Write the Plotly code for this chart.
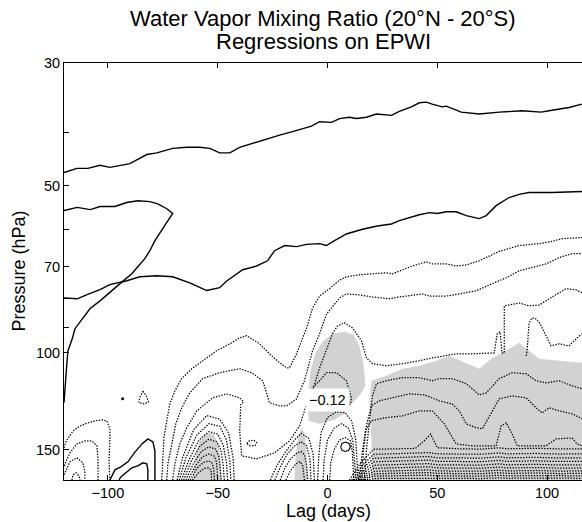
import math
import plotly.graph_objects as go

FONT = "Liberation Sans, Arial, Helvetica, sans-serif"

# ---- solid contours (zero / positive regression) ----
lag_s1 = [-120, -114.1, -109.1, -103.6, -99.1, -90, -82.3, -77.7, -70.5, -64.1, -58.2, -53.6, -49.1, -44.5, -40,
          -34.1, -27.7, -21.8, -15.9, -7.3, -3.6, 1.8, 5.5, 10, 13.2, 17.7, 22.3, 29.1, 32.7, 38.2, 41.8, 45, 47.7,
          52.3, 54.1, 60.9, 69.1, 78.2, 88.6, 95, 97.3, 100.9, 105.5, 110, 115.9]
hpa_s1 = [47.3, 46.5, 46.5, 45.9, 46.3, 45.6, 43.9, 43.6, 42.8, 42.6, 42.6, 42.8, 43.6, 43.6, 42.6, 41.9, 41.1, 40.5,
          39.9, 39.0, 38.3, 38.4, 37.8, 37.6, 37.8, 37.6, 37.1, 37.3, 36.7, 36.0, 35.4, 35.3, 35.6, 36.0, 35.9, 36.8,
          37.1, 36.8, 36.6, 36.7, 36.8, 36.6, 36.3, 36.1, 35.6]

lag_s2 = [-120, -114, -108, -103.6, -96.8, -91.4, -86.4, -80.9, -77.3, -73.2, -70.5, -73.2, -76.4, -78.6, -80.9,
          -83.2, -86.4, -89.1, -94.5, -99.1, -103.6, -108.2, -111.8, -115, -116.4, -118.2, -118.6, -119.1, -119.5, -120]
hpa_s2 = [55.4, 54.7, 55.2, 54.5, 54.5, 53.6, 53.2, 53.4, 53.9, 55.0, 56.1, 58.3, 60.8, 62.8, 65.5, 67.7, 70.0, 72.1,
          75.1, 78.0, 80.7, 83.4, 87.1, 90.6, 94.9, 99.3, 103.5, 110.8, 117.3, 123.2]

lag_s3 = [-120, -114, -109.5, -103.6, -99.1, -91.4, -85.5, -77.7, -70.5, -62.7, -55, -49.1, -45.9, -38.6, -32.3,
          -27.3, -24.1, -19.5, -14.1, -9.5, -3.6, -0.5, 3.2, 8.6, 15.9, 22.7, 29.1, 32.7, 41.8, 46.4, 50, 54.1, 58.6,
          63.2, 69.1, 72.3, 76.8, 82.7, 87.3, 91.8, 102.3, 115.9]
hpa_s3 = [79.7, 80.0, 78.6, 77.0, 75.4, 74.2, 73.0, 72.7, 73.0, 74.9, 77.3, 76.4, 74.3, 70.9, 69.8, 68.3, 65.5, 64.1,
          64.4, 63.8, 63.6, 64.1, 62.8, 61.1, 59.9, 59.1, 58.6, 57.8, 56.4, 55.9, 56.1, 55.7, 55.7, 56.6, 57.3, 56.6,
          54.3, 52.5, 51.8, 51.4, 51.4, 51.2]

lag_s4 = [-99.1, -96.8, -94.1, -90.9, -87.7, -84.5, -81.8, -79.5, -78.6, -78.6, -78.6]
hpa_s4 = [170, 163, 161, 157.6, 151.4, 146.3, 143.3, 145.1, 150.6, 160.3, 170]

lag_s5 = [-95, -94.1, -91.4, -89.1, -86.4, -84.1, -82.3, -81.8, -81.8]
hpa_s5 = [170, 167.8, 164.4, 161.6, 160.3, 158.3, 159, 163, 170]

lag_s6 = [6.0, 6.6, 8.2, 9.8, 10.4, 9.6, 8.0, 6.6, 6.0]
hpa_s6 = [148.2, 146.0, 145.2, 146.0, 148.2, 150.4, 151.0, 150.3, 148.2]

lag_dot = [-93.3]
hpa_dot = [121.2]

# ---- dotted contours (negative regression) ----
lag_n1 = [-75.5, -75, -74.5, -73.2, -71.8, -69.5, -66.4, -61.8, -56.8, -50.5, -44.5, -40, -36.8, -30.9, -26.4,
          -21.8, -18.6, -17.3, -14.1, -9.5, -6.8, -3.6, 0.9, 5.5, 8.6, 14.5, 20.5, 26.8, 29.5, 32.7, 38.6, 45,
          47.7, 54.1, 58.6, 63.2, 69.1, 78.2, 87.3, 96.4, 102.3, 106.8, 115.9]
hpa_n1 = [170, 155.0, 142.7, 132.9, 123.9, 117.3, 111.5, 107.0, 103.5, 99.3, 96.5, 94.1, 93.3, 96.5, 100.6, 104.4,
          106.6, 106.6, 100.6, 90.3, 83.1, 79.1, 76.7, 74.0, 73.0, 72.4, 72.1, 71.8, 72.1, 71.2, 69.8, 68.6, 69.2,
          69.2, 69.8, 69.5, 68.3, 65.7, 64.1, 63.6, 63.0, 62.3, 62.0]

lag_n2 = [-73.2, -72.7, -70.9, -69.1, -66.4, -62.7, -56.8, -49.1, -40, -34.5, -29.5, -27.7, -26.4, -21.8, -18.6,
          -14.1, -10.5, -6.8, -3.6, -0.5, 5.5, 8.6, 14.5, 20.5, 28.2, 32.7, 38.6, 43.2, 46.4, 54.1, 60, 67.7, 75,
          81.4, 87.3, 93.2, 99.5, 105.5, 111.4, 115.9]
hpa_n2 = [170, 159.0, 146.3, 134.6, 125.9, 118.3, 111.5, 108.8, 107.0, 108.8, 112.5, 118.3, 123.3, 124.9, 124.9,
          121.3, 112.5, 99.3, 92.5, 85.3, 79.7, 78.4, 78.7, 79.4, 80.0, 79.4, 78.7, 78.4, 79.1, 79.1, 78.4, 77.4,
          75.1, 73.3, 71.2, 70.3, 69.2, 67.4, 66.3, 66.3]

lag_n3 = [-70.5, -69.5, -67.3, -64.1, -59.5, -52.3, -45.9, -40, -38.2, -39.5, -40, -39.1, -32.3, -24.1, -17.3,
          -12.7, -9.5, -6.8, -3.6, -0.5, 2.3, 4.5, 7.7, 11.4, 15.5, 17.7, 20.5, 26.8, 34.1, 41.8, 47.7, 58.6, 65.9,
          75, 75.9, 77.3, 78.6, 79.5, 80.5, 80.5, 87.3, 91.8, 96.4, 102.3, 108.6, 113.2, 115.9]
hpa_n3 = [170, 159.0, 146.3, 136.8, 127.5, 120.8, 118.8, 120.8, 122.8, 124.3, 138.6, 153.7, 155.7, 151.8, 144.5,
          135.7, 123.9, 117.3, 106.6, 99.3, 92.5, 89.6, 88.4, 90.3, 95.3, 102.3, 104.8, 105.7, 104.8, 103.5, 102.3,
          100.6, 100.6, 100.2, 100.2, 92.5, 91.8, 100.2, 100.2, 82.4, 81.4, 82.4, 82.1, 79.4, 76.7, 77.1, 78.0]

lag_n4 = [90.5, 90.9, 91.8, 93.2, 95, 96.8, 99.5, 101.8, 105.5, 110, 113.2, 115.9]
hpa_n4 = [101.4, 99.3, 88.4, 86.6, 87.0, 88.7, 93.3, 97.3, 96.5, 97.3, 94.5, 92.5]

lag_e1 = [-120, -119, -115.9, -112.7, -109.5, -105.9, -102.7, -100.5, -99.1, -99.1, -99.5, -99.1]
hpa_e1 = [148.7, 144.5, 138.6, 135.8, 134.2, 132.9, 132.4, 132.9, 137.4, 144.5, 157, 170]
lag_e2 = [-120, -117.3, -114.1, -110.5, -107.3, -105, -104.5, -104.5]
hpa_e2 = [160.3, 151.8, 146.3, 144.5, 144.5, 147.5, 157, 170]
lag_e3 = [-120, -117.3, -114.1, -111.4, -110.5, -110.5]
hpa_e3 = [166.4, 157.6, 155, 158.3, 163.7, 170]
lag_e4 = [-116.4, -115.9, -114.5, -113.2, -112.7]
hpa_e4 = [170, 166.4, 165, 167.1, 170]

lag_loop1 = [-84.1, -82.7, -81.5, -83.5, -85.9, -85.5, -84.1]
hpa_loop1 = [117.5, 119.5, 122.8, 123.8, 123.3, 120.5, 117.5]
lag_loop2 = [-36.8, -35.5, -33.5, -32.3, -33, -35.5, -36.8]
hpa_loop2 = [146, 144.3, 144.2, 145.5, 147.3, 147.5, 146]

lag_h1 = [16.8, 17.7, 19.1, 20.5, 22.3, 26.8, 34.1, 41.8, 47.7, 50.9, 56.8, 63.2, 69.1, 72.3, 78.2, 84.1, 90.5,
          95, 99.5, 105.5, 111.4, 115.9]
hpa_h1 = [170, 150.6, 132.9, 119.8, 113.9, 112.5, 111.1, 111.1, 112.5, 111.5, 111.5, 113.9, 119.3, 118.3, 111.5,
          108.8, 109.3, 112.5, 113.5, 112.5, 114.9, 116.3]
lag_h2 = [15.5, 16.4, 17.7, 20, 23.6, 29.5, 37.3, 44.1, 50.9, 56.8, 60, 63.2, 67.7, 70.5, 75, 78.2, 84.1, 90.5,
          95, 97.7, 100.9, 105.5, 111.4, 115.9]
hpa_h2 = [170, 150.6, 135.7, 124.9, 122.3, 120.8, 118.8, 119.3, 122.3, 123.9, 127.5, 134.6, 136.8, 137.4, 127.5,
          121.3, 119.8, 120.8, 125.9, 128.6, 125.9, 127.5, 129.1, 131.8]
lag_h3 = [14.5, 15.9, 17.3, 20, 25.9, 34.1, 41.8, 47.7, 53.2, 56.4, 58.6, 65.9, 76.8, 79.1, 81.4, 84.1, 86.4, 99.5,
          104.1, 111.4, 113.6, 115.9]
hpa_h3 = [170, 150.6, 138.6, 132.9, 131.3, 130.2, 127.5, 127.5, 134.6, 141.5, 146.3, 147.5, 147.5, 135.7, 134.0,
          140.3, 147.5, 147.5, 143.3, 142.7, 146.3, 147.5]

# bottom band (lags 20 to 116)
lag_b1 = [10, 15, 21, 30, 40, 44, 47, 50, 60, 70, 78, 82, 95, 105, 115.9]
hpa_b1 = [170, 158.5, 149.6, 149.3, 149.1, 144.5, 140.5, 148.6, 149.3, 149.5, 148.7, 149.3, 149.0, 149.4, 149.3]
lag_band = [21, 30, 40, 46, 50, 60, 70, 78, 82, 95, 105, 115.9]
lag_b2 = [11, 15.5] + lag_band
hpa_b2 = [170, 160.5, 152.8, 152.5, 152.3, 151.7, 152.5, 152.5, 152.7, 151.9, 152.5, 152.2, 152.6, 152.5]
lag_b3 = [12, 16] + lag_band
hpa_b3 = [170, 162, 155.3, 155.0, 154.8, 154.2, 155.0, 155.0, 155.2, 154.4, 155.0, 154.7, 155.1, 155.0]
lag_b4 = [13, 16.5] + lag_band
hpa_b4 = [170, 163.5, 157.6, 157.3, 157.1, 156.5, 157.3, 157.3, 157.5, 156.7, 157.3, 157.0, 157.4, 157.3]
lag_b5 = [14, 17] + lag_band
hpa_b5 = [170, 164.5, 159.9, 159.6, 159.4, 158.8, 159.6, 159.6, 159.8, 159.0, 159.6, 159.3, 159.7, 159.6]
lag_b6 = [15, 17.5] + lag_band
hpa_b6 = [170, 165.8, 162.0, 161.7, 161.5, 160.9, 161.7, 161.7, 161.9, 161.1, 161.7, 161.4, 161.8, 161.7]
lag_b7 = [16, 18] + lag_band
hpa_b7 = [170, 166.8, 164.0, 163.7, 163.5, 163.0, 163.7, 163.7, 163.9, 163.2, 163.7, 163.4, 163.8, 163.7]
lag_b8 = [17, 18.5] + lag_band
hpa_b8 = [170, 167.7, 165.7, 165.4, 165.2, 164.8, 165.4, 165.4, 165.6, 164.9, 165.4, 165.1, 165.5, 165.4]
lag_b9 = [18, 19] + lag_band
hpa_b9 = [170, 168.5, 167.3, 167.1, 167.0, 166.6, 167.1, 167.1, 167.3, 166.7, 167.1, 166.9, 167.2, 167.1]
lag_b10 = [19, 20] + lag_band
hpa_b10 = [170, 169.4, 169.0, 168.8, 168.7, 168.4, 168.8, 168.8, 169.0, 168.5, 168.8, 168.6, 168.9, 168.8]

# nested minima near lag -55
lag_m1 = [-68.5, -66, -61, -55, -49, -45, -43, -42.5]
hpa_m1 = [170, 155, 138, 130, 132, 140, 155, 170]
lag_m2 = [-67.5, -64.5, -59.5, -54, -49, -46, -44.5, -44]
hpa_m2 = [170, 155, 141, 134.5, 136, 144, 157, 170]
lag_m3 = [-66.5, -63, -58.5, -54, -50, -47.5, -46, -45.5]
hpa_m3 = [170, 156, 144, 139, 140.5, 147, 158, 170]
lag_m4 = [-65.5, -62, -58, -54, -50.5, -48.5, -47.5, -47]
hpa_m4 = [170, 157, 147.5, 143.5, 145, 150, 160, 170]
lag_m5 = [-64.5, -61, -57.5, -54, -51, -49.5, -48.8, -48.5]
hpa_m5 = [170, 158.5, 151, 148, 149.5, 154, 162, 170]
lag_m6 = [-63.5, -60, -57, -54, -51.5, -50.5, -50]
hpa_m6 = [170, 160, 154.5, 152.5, 154, 158, 170]
lag_m7 = [-62.5, -59.5, -56.5, -54, -52.5, -51.8, -51.5]
hpa_m7 = [170, 162, 158, 157, 158.5, 163, 170]
lag_m8 = [-61.5, -58.5, -56, -54, -53, -52.8]
hpa_m8 = [170, 164.5, 162, 161.5, 163.5, 170]

# nested minima near lag -12
lag_q1 = [-26, -23, -19, -15, -12, -8.5, -6.5, -6]
hpa_q1 = [170, 160, 151, 144, 140, 143, 153, 170]
lag_q2 = [-24, -21.5, -18.5, -15, -12, -9.5, -8, -7.5]
hpa_q2 = [170, 161, 153, 147.5, 145, 147.5, 156, 170]
lag_q3 = [-21.5, -19.5, -17, -14, -12, -10.5, -9.5, -9]
hpa_q3 = [170, 162, 156, 152, 151, 153, 160, 170]
lag_q4 = [-19, -17, -14.5, -12.5, -11.3, -10.5]
hpa_q4 = [170, 164, 159, 157.5, 160, 170]

# arches over the small positive cell near lag 8
lag_p1 = [-4.5, -4, -3, 0, 4, 8, 11, 12.8, 13.5, 14]
hpa_p1 = [170, 155, 140, 131, 128, 128.5, 133, 143, 158, 170]
lag_p2 = [-2, -1.5, 0, 3, 6.5, 9.5, 11.5, 12.5, 13]
hpa_p2 = [170, 156, 144, 137, 134.5, 137, 144, 158, 170]
lag_p3 = [1, 1.5, 3, 5.5, 8, 10.5, 11.3, 11.8, 12]
hpa_p3 = [170, 158, 150, 144, 142.5, 144.5, 151, 162, 170]

# closed minimum near lag 0, 115 hPa
lag_r1 = [-9, -7, -3.6, -0.5, 4.1, 8.6, 10.9, 10.5, 6, 0, -6, -9]
hpa_r1 = [122, 116, 112.5, 108.8, 108.8, 112.5, 120.8, 124, 125.5, 125.5, 125, 122]

# ---- shaded (significant) regions ----
lag_g1 = [-8.6, -9.1, -7.7, -5.5, -2.3, 2.3, 7.7, 11.8, 14.5, 16.4, 17.3, 14.5, 10.9, 7.7, 3.2, -3.6]
hpa_g1 = [132.9, 119.8, 107.9, 100.2, 95.7, 92.5, 91.8, 92.9, 97.3, 104.8, 114.9, 119.8, 123.8, 129.1, 132.3, 134.6]
lag_g2 = [19.1, 20, 26.8, 34.1, 41.8, 49.5, 55.5, 63.2, 69.1, 75, 81.4, 87.3, 90.5, 96.4, 105.5, 115.9, 115.9,
          20.5, 20]
hpa_g2 = [122.3, 112.5, 110.2, 107.0, 105.7, 103.5, 101.4, 104.4, 107.0, 102.3, 99.3, 96.1, 98.5, 102.7, 103.5,
          104.4, 170, 170, 144.5]
lag_g3 = [-61.4, -60, -58.2, -55, -51.8, -49.5, -48.6, -48.2]
hpa_g3 = [170, 153.7, 144.5, 139.8, 140.3, 147.5, 160.3, 170]
lag_g4 = [-15, -14.5, -13.2, -11.8, -10.5, -9.5, -9.1]
hpa_g4 = [170, 153.7, 141.5, 136.8, 139.8, 153.7, 170]

solid = [(lag_s1, hpa_s1), (lag_s2, hpa_s2), (lag_s3, hpa_s3), (lag_s4, hpa_s4), (lag_s5, hpa_s5)]
dotted = [(lag_n1, hpa_n1), (lag_n2, hpa_n2), (lag_n3, hpa_n3), (lag_n4, hpa_n4),
          (lag_e1, hpa_e1), (lag_e2, hpa_e2), (lag_e3, hpa_e3), (lag_e4, hpa_e4),
          (lag_loop1, hpa_loop1), (lag_loop2, hpa_loop2),
          (lag_h1, hpa_h1), (lag_h2, hpa_h2), (lag_h3, hpa_h3),
          (lag_b1, hpa_b1), (lag_b2, hpa_b2), (lag_b3, hpa_b3), (lag_b4, hpa_b4), (lag_b5, hpa_b5),
          (lag_b6, hpa_b6), (lag_b7, hpa_b7), (lag_b8, hpa_b8), (lag_b9, hpa_b9), (lag_b10, hpa_b10),
          (lag_m1, hpa_m1), (lag_m2, hpa_m2), (lag_m3, hpa_m3), (lag_m4, hpa_m4), (lag_m5, hpa_m5),
          (lag_m6, hpa_m6), (lag_m7, hpa_m7), (lag_m8, hpa_m8),
          (lag_q1, hpa_q1), (lag_q2, hpa_q2), (lag_q3, hpa_q3), (lag_q4, hpa_q4),
          (lag_p1, hpa_p1), (lag_p2, hpa_p2), (lag_p3, hpa_p3), (lag_r1, hpa_r1)]
shaded = [(lag_g1, hpa_g1), (lag_g2, hpa_g2), (lag_g3, hpa_g3), (lag_g4, hpa_g4)]

x_ticks = [-100, -50, 0, 50, 100]
y_ticks = [30, 40, 50, 60, 70, 80, 90, 100, 150]
y_labels = ["30", "", "50", "", "70", "", "", "100", "150"]

fig = go.Figure()
for lx, py in shaded:
    fig.add_trace(go.Scatter(x=lx, y=py, mode="lines", fill="toself", fillcolor="#d2d2d2",
                             line=dict(width=0, color="#d2d2d2"), hoverinfo="skip"))
for lx, py in dotted:
    fig.add_trace(go.Scatter(x=lx, y=py, mode="lines",
                             line=dict(color="black", width=1.25, dash="1.4px,1.4px"), hoverinfo="skip"))
for lx, py in solid:
    fig.add_trace(go.Scatter(x=lx, y=py, mode="lines", line=dict(color="black", width=1.4), hoverinfo="skip"))
fig.add_trace(go.Scatter(x=lag_s6, y=hpa_s6, mode="lines", line=dict(color="black", width=1.1),
                         hoverinfo="skip"))
fig.add_trace(go.Scatter(x=lag_dot, y=hpa_dot, mode="markers", marker=dict(color="black", size=3),
                         hoverinfo="skip"))

tick_font = dict(family=FONT, size=14.5, color="black")
fig.update_layout(
    width=582, height=522,
    margin=dict(l=64, r=0, t=63, b=42),
    paper_bgcolor="white", plot_bgcolor="white",
    showlegend=False,
    xaxis=dict(range=[-120, 115.9], tickvals=x_ticks, ticks="inside", ticklen=5, tickwidth=1,
               tickcolor="black", showline=True, linecolor="black", linewidth=1, mirror="ticks",
               showgrid=False, zeroline=False, tickfont=tick_font),
    yaxis=dict(type="log", range=[math.log10(170), math.log10(30)], tickvals=y_ticks, ticktext=y_labels,
               ticks="inside", ticklen=5, tickwidth=1, tickcolor="black", showline=True, linecolor="black",
               linewidth=1, showgrid=False, zeroline=False, tickfont=tick_font),
    annotations=[
        dict(text="Water Vapor Mixing Ratio (20°N - 20°S)", xref="paper", yref="paper", x=0.5, y=1.107,
             showarrow=False, font=dict(family=FONT, size=22, color="black"), yanchor="middle"),
        dict(text="Regressions on EPWI", xref="paper", yref="paper", x=0.5, y=1.052,
             showarrow=False, font=dict(family=FONT, size=22, color="black"), yanchor="middle"),
        dict(text="Lag (days)", xref="paper", yref="paper", x=0.511, y=-0.0755, showarrow=False,
             font=dict(family=FONT, size=18, color="black"), yanchor="middle"),
        dict(text="Pressure (hPa)", xref="paper", yref="paper", x=-0.0886, y=0.5, showarrow=False,
             textangle=-90, font=dict(family=FONT, size=18, color="black"), xanchor="center", yanchor="middle"),
        dict(text="\u22120.12", x=-0.2, y=math.log10(121.8), xref="x", yref="y", showarrow=False,
             bgcolor="white", borderpad=3, font=dict(family=FONT, size=14.5, color="black")),
    ],
)

fig.write_html("out.html")
